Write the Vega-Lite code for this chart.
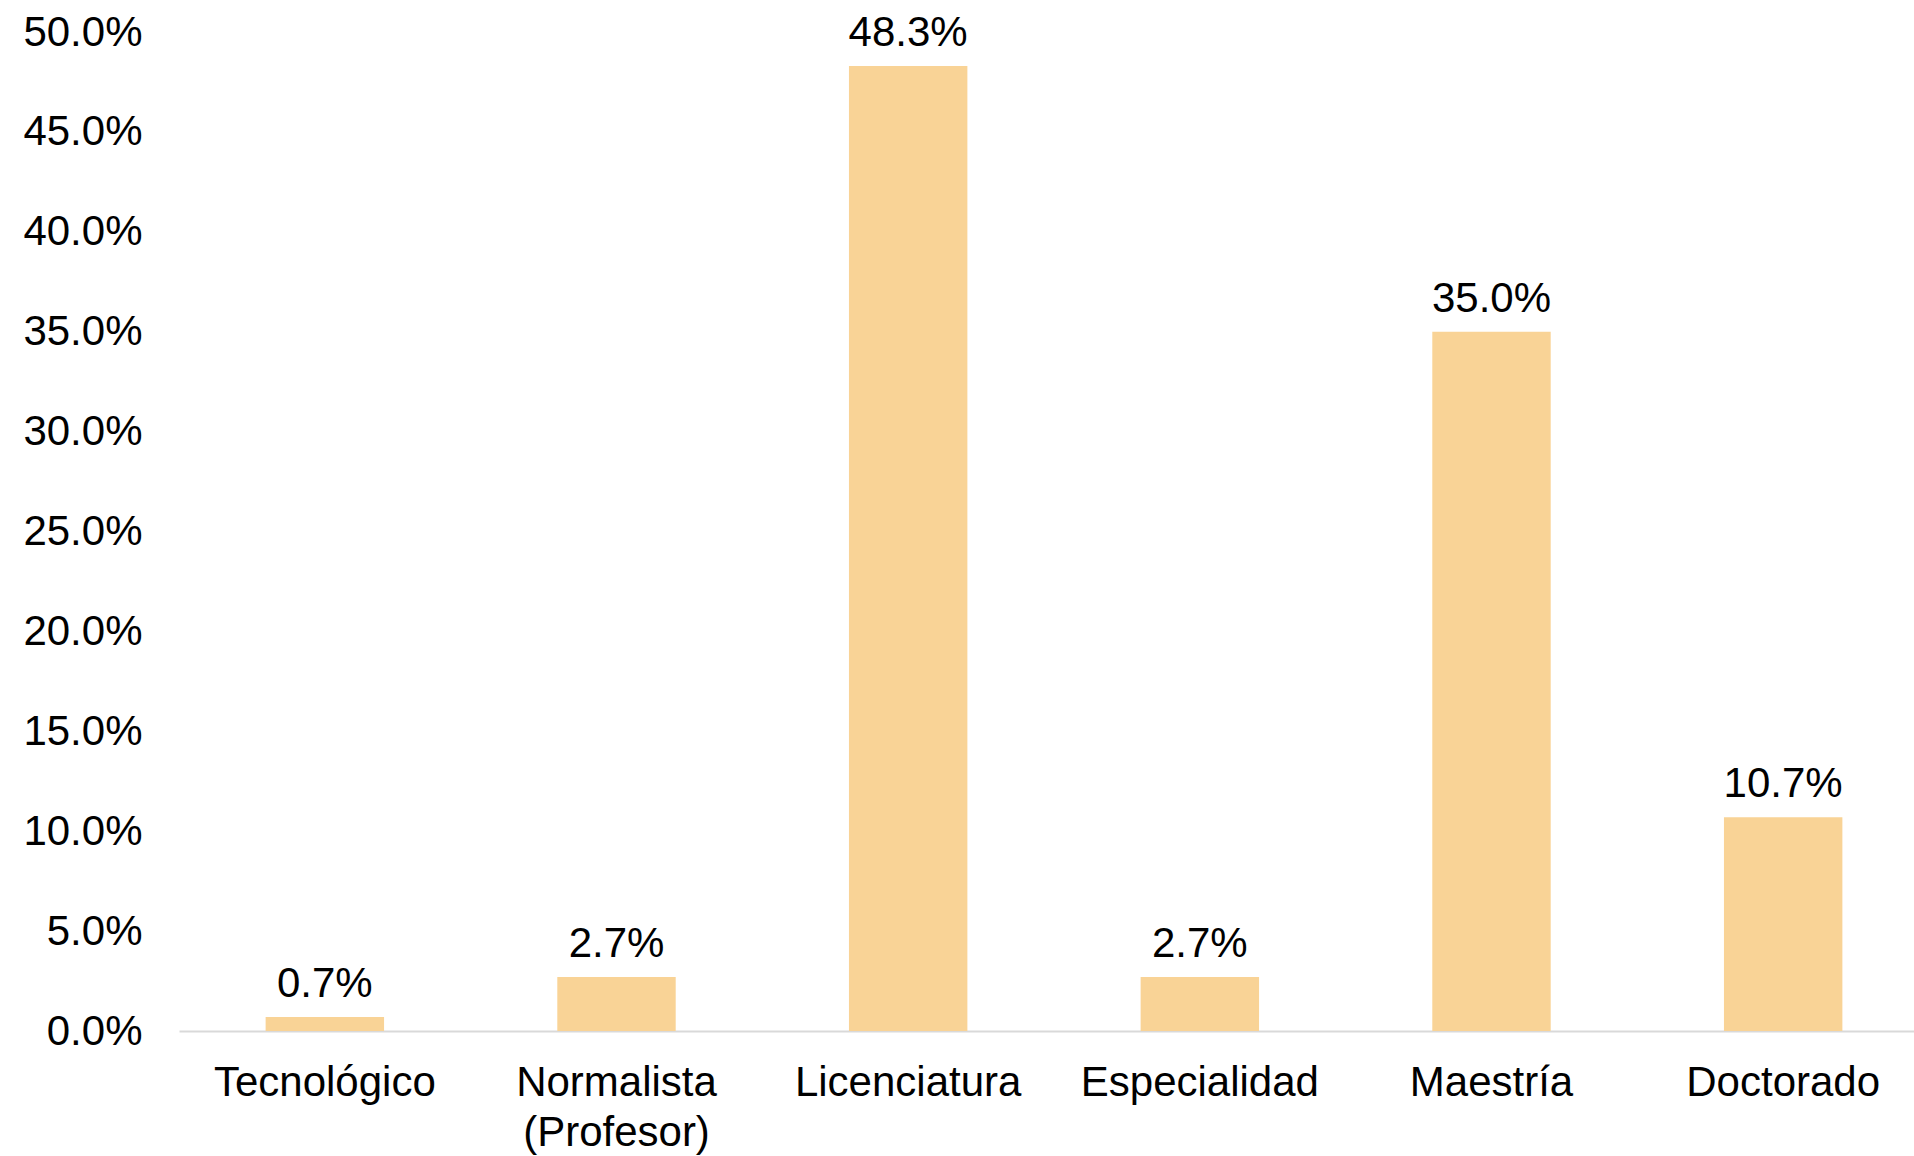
{
  "$schema": "https://vega.github.io/schema/vega-lite/v6.json",
  "width": 1735,
  "height": 999,
  "autosize": {"type": "none"},
  "padding": {"left": 179, "top": 32, "right": 0, "bottom": 125},
  "background": "white",
  "config": {
    "font": "Liberation Sans",
    "view": {"stroke": null}
  },
  "data": {
    "values": [
      {"nivel": "Tecnológico", "pct": 0.007},
      {"nivel": "Normalista (Profesor)", "pct": 0.027},
      {"nivel": "Licenciatura", "pct": 0.483},
      {"nivel": "Especialidad", "pct": 0.027},
      {"nivel": "Maestría", "pct": 0.35},
      {"nivel": "Doctorado", "pct": 0.107}
    ]
  },
  "encoding": {
    "x": {
      "field": "nivel",
      "type": "nominal",
      "sort": null,
      "scale": {"range": [0, 1750], "paddingInner": 0.594, "paddingOuter": 0.297},
      "axis": {
        "title": null,
        "labelAngle": 0,
        "labelFontSize": 42,
        "labelColor": "#000000",
        "labelPadding": 31,
        "labelLineHeight": 50,
        "labelLimit": 0,
        "labelOverlap": false,
        "labelExpr": "datum.label == 'Normalista (Profesor)' ? ['Normalista', '(Profesor)'] : datum.label",
        "ticks": false,
        "domainColor": "#d9d9d9",
        "domainWidth": 2
      }
    },
    "y": {
      "field": "pct",
      "type": "quantitative",
      "scale": {"domain": [0, 0.5]},
      "axis": {
        "title": null,
        "format": ".1%",
        "values": [0, 0.05, 0.1, 0.15, 0.2, 0.25, 0.3, 0.35, 0.4, 0.45, 0.5],
        "labelFontSize": 42,
        "labelColor": "#000000",
        "labelPadding": 37,
        "ticks": false,
        "domain": false,
        "grid": false
      }
    }
  },
  "layer": [
    {"mark": {"type": "bar", "color": "#F9D396"}},
    {
      "mark": {"type": "text", "fontSize": 42, "color": "#000000", "baseline": "alphabetic", "dy": -20},
      "encoding": {"text": {"field": "pct", "type": "quantitative", "format": ".1%"}}
    }
  ]
}
